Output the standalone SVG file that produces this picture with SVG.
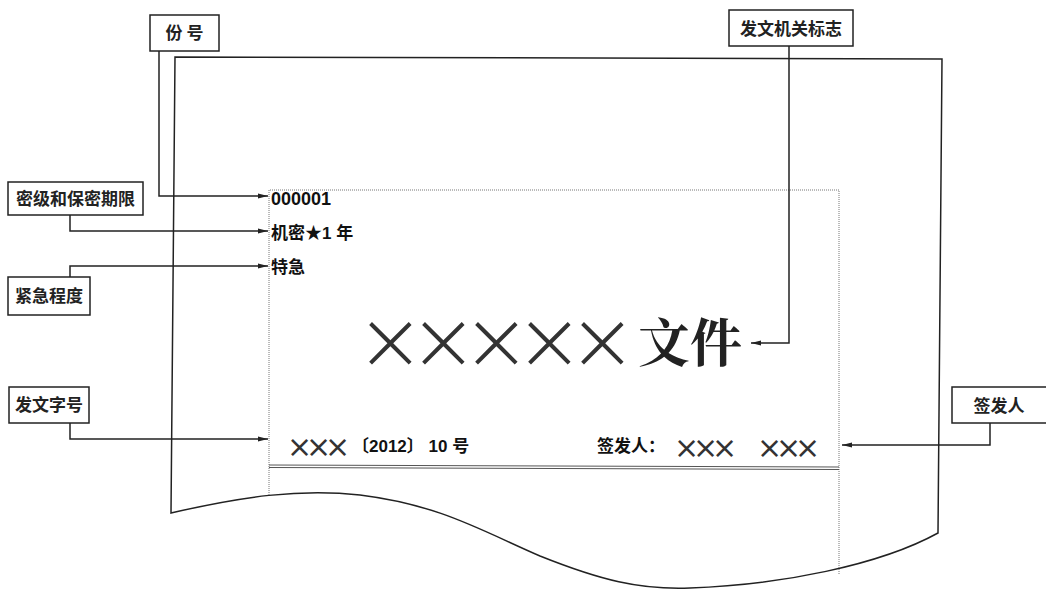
<svg xmlns="http://www.w3.org/2000/svg" width="1046" height="590" viewBox="0 0 1046 590">
<style>
.box{fill:#fff;stroke:#222;stroke-width:1.5}
.lbl{font-family:"Noto Sans CJK SC",sans-serif;font-weight:700;font-size:17px;fill:#222}
.con{fill:none;stroke:#222;stroke-width:1.5}
.dot{fill:none;stroke:#777;stroke-width:1;stroke-dasharray:1 1}
.t{font-family:"Liberation Sans","Noto Sans CJK SC",sans-serif;font-weight:700;fill:#111}
.x{font-family:"DejaVu Sans",sans-serif;font-weight:200;fill:#333}
</style>
<defs>
<marker id="ar" viewBox="0 0 10 8" refX="10" refY="4" markerWidth="10" markerHeight="8" markerUnits="userSpaceOnUse" orient="auto">
<path d="M0,1.5 L10,4 L0,6.5 Z" fill="#222"/>
</marker>
</defs>
<g id="page">
<path d="M171,513 L175,57 L942,59 L938,533 C880,565 780,585 690,588 C640,590 600,580 540,556 C480,530 440,505 360,495 C300,488 240,497 171,513 Z" fill="none" stroke="#222" stroke-width="1.5"/>
<path class="dot" d="M269,495 V190 H839 V575"/>
<line x1="269" y1="465" x2="839" y2="467" stroke="#555" stroke-width="1"/>
<line x1="269" y1="467.5" x2="839" y2="469.5" stroke="#555" stroke-width="1"/>
</g>
<g id="content">
<text class="t" x="271" y="205" font-size="18">000001</text>
<text class="t" x="271" y="239" font-size="17">机密★1 年</text>
<text class="t" x="271" y="273" font-size="17">特急</text>
<text class="x" x="356 409 462 515 568" y="369" font-size="82">×××××</text>
<text x="638" y="362" font-family="Noto Serif CJK SC,Noto Sans CJK SC,serif" font-weight="700" font-size="52" fill="#222">文件</text>
<text class="x" x="287 306 325" y="457" font-size="30" style="font-weight:400">×××</text>
<text class="t" x="352" y="452" font-size="17">〔2012〕 10 号</text>
<text class="t" x="597" y="452" font-size="17">签发人：</text>
<text class="x" x="674 693 712 757 776 795" y="458" font-size="30" style="font-weight:400">××××××</text>
</g>
<g id="n_fenhao"><rect class="box" x="150" y="15" width="69" height="36"/><text class="lbl" x="184.5" y="39" text-anchor="middle">份 号</text></g>
<g id="n_fawenjiguan"><rect class="box" x="729" y="10" width="124" height="36"/><text class="lbl" x="791" y="35" text-anchor="middle" font-size="18">发文机关标志</text></g>
<g id="n_miji"><rect class="box" x="8" y="182" width="135" height="33"/><text class="lbl" x="75.5" y="205" text-anchor="middle">密级和保密期限</text></g>
<g id="n_jinji"><rect class="box" x="8" y="277" width="82" height="38"/><text class="lbl" x="49" y="302" text-anchor="middle" font-size="16">紧急程度</text></g>
<g id="n_fawenzihao"><rect class="box" x="9" y="387" width="80" height="36"/><text class="lbl" x="49" y="411" text-anchor="middle" font-size="16">发文字号</text></g>
<g id="n_qianfaren"><rect class="box" x="952" y="387" width="100" height="36"/><text class="lbl" x="999" y="412" text-anchor="middle" font-size="18">签发人</text></g>
<g id="connectors">
<path class="con" d="M159,51 V196 H268" marker-end="url(#ar)"/>
<path class="con" d="M70,215 V231 H268" marker-end="url(#ar)"/>
<path class="con" d="M70,277 V266 H268" marker-end="url(#ar)"/>
<path class="con" d="M70,423 V439 H268" marker-end="url(#ar)"/>
<path class="con" d="M990,423 V445 H842" marker-end="url(#ar)"/>
<path class="con" d="M789,46 V343 H751" marker-end="url(#ar)"/>
</g>
</svg>
